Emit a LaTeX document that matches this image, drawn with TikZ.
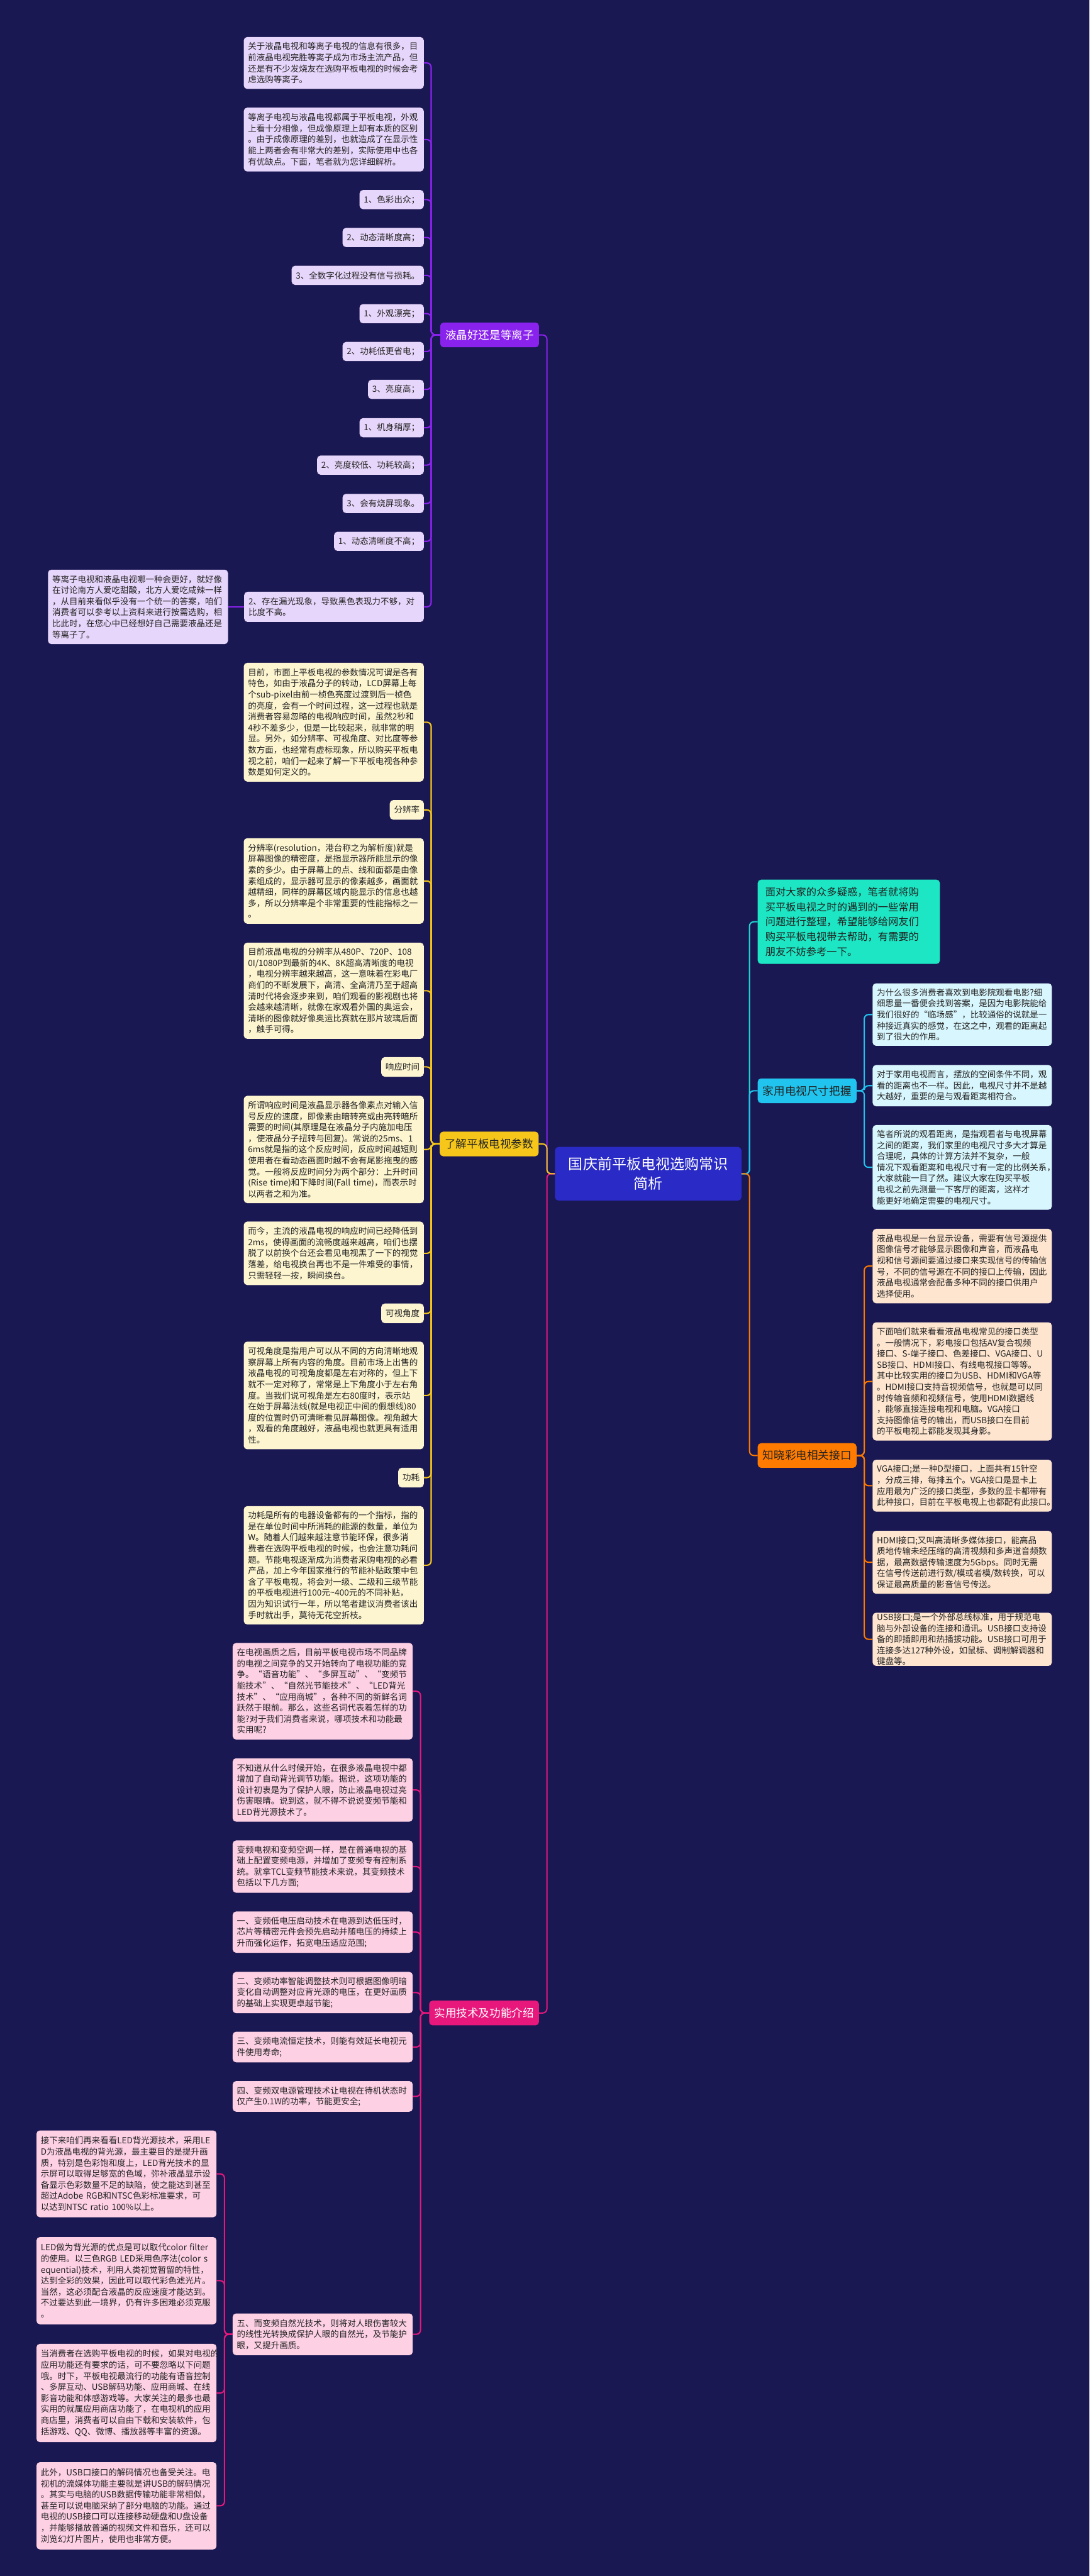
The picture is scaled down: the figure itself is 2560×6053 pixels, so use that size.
\documentclass[tikz,border=0pt]{standalone}
\usepackage{fontspec}
\setmainfont{Noto Sans CJK SC}
\usetikzlibrary{calc}

\definecolor{bgnavy}{HTML}{1A1852}
\definecolor{rootblue}{HTML}{2A2AC6}
\definecolor{vio}{HTML}{8A22EE}
\definecolor{violt}{HTML}{E7D6FB}
\definecolor{gold}{HTML}{F6C71A}
\definecolor{goldlt}{HTML}{FDF5D0}
\definecolor{rose}{HTML}{E8177C}
\definecolor{roselt}{HTML}{FDD0E4}
\definecolor{aqua}{HTML}{1CE6C3}
\definecolor{sky}{HTML}{21C4EE}
\definecolor{skylt}{HTML}{D8F6FD}
\definecolor{amber}{HTML}{FF7B00}
\definecolor{amberlt}{HTML}{FDE5CF}
\definecolor{ink}{HTML}{222222}

\begin{document}
\begin{tikzpicture}[x=0.25mm,y=-0.25mm,
  box/.style={rounded corners=2mm, inner xsep=2.5mm, inner ysep=0pt, align=left,
    font=\fontsize{14.2}{18.5}\selectfont, text=ink},
  bh/.style={minimum height=#1*0.25mm},
  tw/.style={text width=#1*0.25mm},
  pitem/.style={box, fill=violt},
  yitem/.style={box, fill=goldlt},
  kitem/.style={box, fill=roselt},
  citem/.style={box, fill=skylt},
  oitem/.style={box, fill=amberlt},
  branch/.style={rounded corners=2mm, inner xsep=3mm, inner ysep=0pt,
    minimum height=58*0.25mm, font=\fontsize{18.5}{22}\selectfont},
  link/.style={line width=0.75mm, rounded corners=2.5mm},
  plink/.style={link, draw=vio},
  ylink/.style={link, draw=gold},
  klink/.style={link, draw=rose},
  tlink/.style={link, draw=aqua!60!sky},
  clink/.style={link, draw=sky},
  olink/.style={link, draw=amber}]

\fill[bgnavy] (0,0) rectangle (2560,6053);
\useasboundingbox (0,0) rectangle (2560,6053);

% root
\node[rounded corners=2mm, fill=rootblue, text=white, align=center,
  minimum width=438*0.25mm, minimum height=126*0.25mm,
  font=\fontsize{24.2}{32}\selectfont] (root) at (1523,2758)
  {国庆前平板电视选购常识\\简析};

% ---- purple branch
\node[branch, fill=vio, text=white, anchor=west] (yjd) at (1034,787) {液晶好还是等离子};

\node[pitem, tw=403, bh=122, anchor=east] (p1) at (996,148)
  {关于液晶电视和等离子电视的信息有很多，目\\前液晶电视完胜等离子成为市场主流产品，但\\还是有不少发烧友在选购平板电视的时候会考\\虑选购等离子。};
\node[pitem, tw=403, bh=150, anchor=east] (p2) at (996,328)
  {等离子电视与液晶电视都属于平板电视，外观\\上看十分相像，但成像原理上却有本质的区别\\。由于成像原理的差别，也就造成了在显示性\\能上两者会有非常大的差别，实际使用中也各\\有优缺点。下面，笔者就为您详细解析。};
\node[pitem, bh=45, anchor=east] (p3) at (996,469) {1、色彩出众；};
\node[pitem, bh=45, anchor=east] (p4) at (996,558) {2、动态清晰度高；};
\node[pitem, bh=45, anchor=east] (p5) at (996,647) {3、全数字化过程没有信号损耗。};
\node[pitem, bh=45, anchor=east] (p6) at (996,737) {1、外观漂亮；};
\node[pitem, bh=45, anchor=east] (p7) at (996,826) {2、功耗低更省电；};
\node[pitem, bh=45, anchor=east] (p8) at (996,915) {3、亮度高；};
\node[pitem, bh=45, anchor=east] (p9) at (996,1005) {1、机身稍厚；};
\node[pitem, bh=45, anchor=east] (p10) at (996,1093) {2、亮度较低、功耗较高；};
\node[pitem, bh=45, anchor=east] (p11) at (996,1183) {3、会有烧屏现象。};
\node[pitem, bh=45, anchor=east] (p12) at (996,1272) {1、动态清晰度不高；};
\node[pitem, tw=402, bh=71, anchor=east] (p13) at (996,1426)
  {2、存在漏光现象，导致黑色表现力不够，对\\比度不高。};
\node[pitem, tw=403, bh=175, anchor=east] (pz) at (536,1426)
  {等离子电视和液晶电视哪一种会更好，就好像\\在讨论南方人爱吃甜酸，北方人爱吃咸辣一样\\，从目前来看似乎没有一个统一的答案，咱们\\消费者可以参考以上资料来进行按需选购，相\\比此时，在您心中已经想好自己需要液晶还是\\等离子了。};

\coordinate (pj) at (1013,787);
\foreach \n in {p1,p2,p3,p4,p5,p6,p7,p8,p9,p10,p11,p12,p13}
  \draw[plink] (\n.east) -| (pj) -- (yjd.west);
\draw[plink] (pz.east) -- (p13.west);

% ---- yellow branch
\node[branch, fill=gold, text=ink, anchor=west] (ljcs) at (1033,2688) {了解平板电视参数};

\node[yitem, tw=403, bh=279, anchor=east] (y1) at (996,1697)
  {目前，市面上平板电视的参数情况可谓是各有\\特色，如由于液晶分子的转动，LCD屏幕上每\\个sub-pixel由前一桢色亮度过渡到后一桢色\\的亮度，会有一个时间过程，这一过程也就是\\消费者容易忽略的电视响应时间，虽然2秒和\\4秒不差多少，但是一比较起来，就非常的明\\显。另外，如分辨率、可视角度、对比度等参\\数方面，也经常有虚标现象，所以购买平板电\\视之前，咱们一起来了解一下平板电视各种参\\数是如何定义的。};
\node[yitem, bh=46, anchor=east] (yf) at (996,1903) {分辨率};
\node[yitem, tw=403, bh=201, anchor=east] (y2) at (996,2070)
  {分辨率(resolution，港台称之为解析度)就是\\屏幕图像的精密度，是指显示器所能显示的像\\素的多少。由于屏幕上的点、线和面都是由像\\素组成的，显示器可显示的像素越多，画面就\\越精细，同样的屏幕区域内能显示的信息也越\\多，所以分辨率是个非常重要的性能指标之一\\。};
\node[yitem, tw=403, bh=226, anchor=east] (y3) at (996,2328)
  {目前液晶电视的分辨率从480P、720P、108\\0I/1080P到最新的4K、8K超高清晰度的电视\\，电视分辨率越来越高，这一意味着在彩电厂\\商们的不断发展下，高清、全高清乃至于超高\\清时代将会逐步来到，咱们观看的影视剧也将\\会越来越清晰，就像在家观看外国的奥运会，\\清晰的图像就好像奥运比赛就在那片玻璃后面\\，触手可得。};
\node[yitem, bh=46, anchor=east] (yx) at (996,2507) {响应时间};
\node[yitem, tw=403, bh=252, anchor=east] (y4) at (996,2701)
  {所谓响应时间是液晶显示器各像素点对输入信\\号反应的速度，即像素由暗转亮或由亮转暗所\\需要的时间(其原理是在液晶分子内施加电压\\，使液晶分子扭转与回复)。常说的25ms、1\\6ms就是指的这个反应时间，反应时间越短则\\使用者在看动态画面时越不会有尾影拖曳的感\\觉。一般将反应时间分为两个部分：上升时间\\(Rise time)和下降时间(Fall time)，而表示时\\以两者之和为准。};
\node[yitem, tw=403, bh=149, anchor=east] (y5) at (996,2945)
  {而今，主流的液晶电视的响应时间已经降低到\\2ms，使得画面的流畅度越来越高，咱们也摆\\脱了以前换个台还会看见电视黑了一下的视觉\\落差，给电视换台再也不是一件难受的事情，\\只需轻轻一按，瞬间换台。};
\node[yitem, bh=46, anchor=east] (yk) at (996,3086) {可视角度};
\node[yitem, tw=403, bh=253, anchor=east] (y6) at (996,3279)
  {可视角度是指用户可以从不同的方向清晰地观\\察屏幕上所有内容的角度。目前市场上出售的\\液晶电视的可视角度都是左右对称的，但上下\\就不一定对称了，常常是上下角度小于左右角\\度。当我们说可视角是左右80度时，表示站\\在始于屏幕法线(就是电视正中间的假想线)80\\度的位置时仍可清晰看见屏幕图像。视角越大\\，观看的角度越好，液晶电视也就更具有适用\\性。};
\node[yitem, bh=46, anchor=east] (yg) at (996,3472) {功耗};
\node[yitem, tw=403, bh=278, anchor=east] (y7) at (996,3678)
  {功耗是所有的电器设备都有的一个指标，指的\\是在单位时间中所消耗的能源的数量，单位为\\W。随着人们越来越注意节能环保，很多消\\费者在选购平板电视的时候，也会注意功耗问\\题。节能电视逐渐成为消费者采购电视的必看\\产品，加上今年国家推行的节能补贴政策中包\\含了平板电视，将会对一级、二级和三级节能\\的平板电视进行100元\textasciitilde400元的不同补贴，\\因为知识试行一年，所以笔者建议消费者该出\\手时就出手，莫待无花空折枝。};

\coordinate (yj) at (1013,2688);
\foreach \n in {y1,yf,y2,y3,yx,y4,y5,yk,y6,yg,y7}
  \draw[ylink] (\n.east) -| (yj) -- (ljcs.west);

% ---- pink branch
\node[branch, fill=rose, text=white, anchor=west] (syjs) at (1008,4730) {实用技术及功能介绍};

\node[kitem, tw=403, bh=227, anchor=east] (k1) at (970,3974)
  {在电视画质之后，目前平板电视市场不同品牌\\的电视之间竞争的又开始转向了电视功能的竞\\争。“语音功能”、“多屏互动”、“变频节\\能技术”、“自然光节能技术”、“LED背光\\技术”、“应用商城”，各种不同的新鲜名词\\跃然于眼前。那么，这些名词代表着怎样的功\\能?对于我们消费者来说，哪项技术和功能最\\实用呢?};
\node[kitem, tw=403, bh=149, anchor=east] (k2) at (970,4206)
  {不知道从什么时候开始，在很多液晶电视中都\\增加了自动背光调节功能。据说，这项功能的\\设计初衷是为了保护人眼，防止液晶电视过亮\\伤害眼睛。说到这，就不得不说说变频节能和\\LED背光源技术了。};
\node[kitem, tw=403, bh=123, anchor=east] (k3) at (970,4386)
  {变频电视和变频空调一样，是在普通电视的基\\础上配置变频电源，并增加了变频专有控制系\\统。就拿TCL变频节能技术来说，其变频技术\\包括以下几方面;};
\node[kitem, tw=403, bh=97, anchor=east] (k4) at (970,4540)
  {一、变频低电压启动技术在电源到达低压时，\\芯片等精密元件会预先启动并随电压的持续上\\升而强化运作，拓宽电压适应范围;};
\node[kitem, tw=403, bh=97, anchor=east] (k5) at (970,4682)
  {二、变频功率智能调整技术则可根据图像明暗\\变化自动调整对应背光源的电压，在更好画质\\的基础上实现更卓越节能;};
\node[kitem, tw=403, bh=72, anchor=east] (k6) at (970,4810)
  {三、变频电流恒定技术，则能有效延长电视元\\件使用寿命;};
\node[kitem, tw=403, bh=72, anchor=east] (k7) at (970,4926)
  {四、变频双电源管理技术让电视在待机状态时\\仅产生0.1W的功率，节能更安全;};
\node[kitem, tw=403, bh=98, anchor=east] (k8) at (970,5485)
  {五、而变频自然光技术，则将对人眼伤害较大\\的线性光转换成保护人眼的自然光，及节能护\\眼，又提升画质。};

\node[kitem, tw=403, bh=204, anchor=east] (l1) at (509,5108)
  {接下来咱们再来看看LED背光源技术，采用LE\\D为液晶电视的背光源，最主要目的是提升画\\质，特别是色彩饱和度上，LED背光技术的显\\示屏可以取得足够宽的色域，弥补液晶显示设\\备显示色彩数量不足的缺陷，使之能达到甚至\\超过Adobe RGB和NTSC色彩标准要求，可\\以达到NTSC ratio 100\%以上。};
\node[kitem, tw=403, bh=205, anchor=east] (l2) at (509,5359)
  {LED做为背光源的优点是可以取代color filter\\的使用。以三色RGB LED采用色序法(color s\\equential)技术，利用人类视觉暂留的特性，\\达到全彩的效果，因此可以取代彩色滤光片。\\当然，这必须配合液晶的反应速度才能达到。\\不过要达到此一境界，仍有许多困难必须克服\\。};
\node[kitem, tw=403, bh=231, anchor=east] (l3) at (509,5623)
  {当消费者在选购平板电视的时候，如果对电视的\\应用功能还有要求的话，可不要忽略以下问题\\哦。时下，平板电视最流行的功能有语音控制\\、多屏互动、USB解码功能、应用商城、在线\\影音功能和体感游戏等。大家关注的最多也最\\实用的就属应用商店功能了，在电视机的应用\\商店里，消费者可以自由下载和安装软件，包\\括游戏、QQ、微博、播放器等丰富的资源。};
\node[kitem, tw=403, bh=205, anchor=east] (l4) at (509,5888)
  {此外，USB口接口的解码情况也备受关注。电\\视机的流媒体功能主要就是讲USB的解码情况\\。其实与电脑的USB数据传输功能非常相似，\\甚至可以说电脑采纳了部分电脑的功能。通过\\电视的USB接口可以连接移动硬盘和U盘设备\\，并能够播放普通的视频文件和音乐，还可以\\浏览幻灯片图片，使用也非常方便。};

\coordinate (kj) at (988,4730);
\foreach \n in {k1,k2,k3,k4,k5,k6,k7,k8}
  \draw[klink] (\n.east) -| (kj) -- (syjs.west);
\foreach \n in {l1,l2,l3,l4}
  \draw[klink] (k8.west) -- ++(-19,0) |- (\n.east);

% ---- trunk to root (left)
\coordinate (rl) at (1285,2758);
\draw[plink] (yjd.east) -| (rl) -- (root.west);
\draw[klink] (syjs.east) -| (rl) -- (root.west);
\draw[ylink] (ljcs.east) -| (rl) -- (root.west);

% ---- right side
\node[rounded corners=2mm, fill=aqua, text=ink, align=left, inner xsep=4.5mm,
  text width=392*0.25mm, minimum height=198*0.25mm,
  font=\fontsize{17.1}{24.9}\selectfont, anchor=west] (mdj) at (1780,2166)
  {面对大家的众多疑惑，笔者就将购\\买平板电视之时的遇到的一些常用\\问题进行整理，希望能够给网友们\\购买平板电视带去帮助，有需要的\\朋友不妨参考一下。};
\node[branch, fill=sky, text=ink, anchor=west] (jyds) at (1780,2563) {家用电视尺寸把握};
\node[branch, fill=amber, text=ink, anchor=west] (zxcd) at (1780,3420) {知晓彩电相关接口};

\node[citem, tw=401, bh=147, anchor=west] (c1) at (2050,2384)
  {为什么很多消费者喜欢到电影院观看电影?细\\细思量一番便会找到答案，是因为电影院能给\\我们很好的“临场感”，比较通俗的说就是一\\种接近真实的感觉，在这之中，观看的距离起\\到了很大的作用。};
\node[citem, tw=401, bh=97, anchor=west] (c2) at (2050,2551)
  {对于家用电视而言，摆放的空间条件不同，观\\看的距离也不一样。因此，电视尺寸并不是越\\大越好，重要的是与观看距离相符合。};
\node[citem, tw=401, bh=199, anchor=west] (c3) at (2050,2743)
  {笔者所说的观看距离，是指观看者与电视屏幕\\之间的距离，我们家里的电视尺寸多大才算是\\合理呢，具体的计算方法并不复杂，一般\\情况下观看距离和电视尺寸有一定的比例关系，\\大家就能一目了然。建议大家在购买平板\\电视之前先测量一下客厅的距离，这样才\\能更好地确定需要的电视尺寸。};

\node[oitem, tw=401, bh=175, anchor=west] (o1) at (2050,2975)
  {液晶电视是一台显示设备，需要有信号源提供\\图像信号才能够显示图像和声音，而液晶电\\视和信号源间要通过接口来实现信号的传输信\\号，不同的信号源在不同的接口上传输，因此\\液晶电视通常会配备多种不同的接口供用户\\选择使用。};
\node[oitem, tw=401, bh=278, anchor=west] (o2) at (2050,3246)
  {下面咱们就来看看液晶电视常见的接口类型\\。一般情况下，彩电接口包括AV复合视频\\接口、S-端子接口、色差接口、VGA接口、U\\SB接口、HDMI接口、有线电视接口等等。\\其中比较实用的接口为USB、HDMI和VGA等\\。HDMI接口支持音视频信号，也就是可以同\\时传输音频和视频信号，使用HDMI数据线\\，能够直接连接电视和电脑。VGA接口\\支持图像信号的输出，而USB接口在目前\\的平板电视上都能发现其身影。};
\node[oitem, tw=401, bh=122, anchor=west] (o3) at (2050,3491)
  {VGA接口;是一种D型接口，上面共有15针空\\，分成三排，每排五个。VGA接口是显卡上\\应用最为广泛的接口类型，多数的显卡都带有\\此种接口，目前在平板电视上也都配有此接口。};
\node[oitem, tw=401, bh=148, anchor=west] (o4) at (2050,3671)
  {HDMI接口;又叫高清晰多媒体接口，能高品\\质地传输未经压缩的高清视频和多声道音频数\\据，最高数据传输速度为5Gbps。同时无需\\在信号传送前进行数/模或者模/数转换，可以\\保证最高质量的影音信号传送。};
\node[oitem, tw=401, bh=125, anchor=west] (o5) at (2050,3852)
  {USB接口;是一个外部总线标准，用于规范电\\脑与外部设备的连接和通讯。USB接口支持设\\备的即插即用和热插拔功能。USB接口可用于\\连接多达127种外设，如鼠标、调制解调器和\\键盘等。};

\coordinate (rr) at (1761,2758);
\draw[tlink] (root.east) -- (rr) |- (mdj.west);
\draw[clink] (root.east) -- (rr) |- (jyds.west);
\draw[olink] (root.east) -- (rr) |- (zxcd.west);
\foreach \n in {c1,c2,c3}
  \draw[clink] (jyds.east) -- ++(18,0) |- (\n.west);
\foreach \n in {o1,o2,o3,o4,o5}
  \draw[olink] (zxcd.east) -- ++(18,0) |- (\n.west);

\end{tikzpicture}
\end{document}
